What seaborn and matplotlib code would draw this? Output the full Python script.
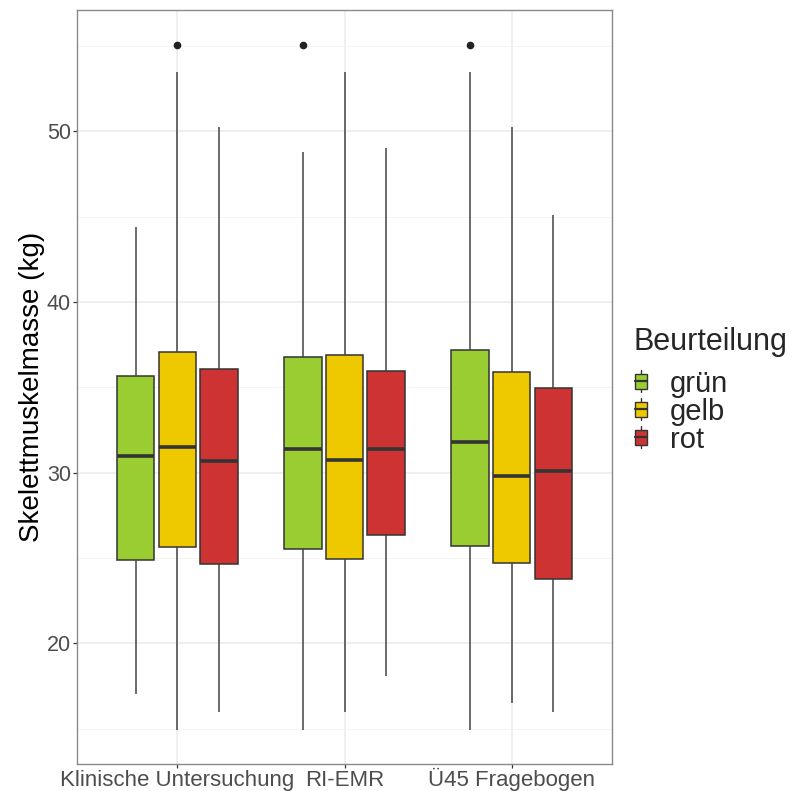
import numpy as np
import pandas as pd
import matplotlib
matplotlib.use('Agg')
import matplotlib.pyplot as plt
import seaborn as sns
from matplotlib.patches import Patch, Rectangle
from matplotlib.lines import Line2D
from matplotlib.legend_handler import HandlerBase
import warnings
warnings.filterwarnings('ignore')

# Daten
methoden = ['Klinische Untersuchung', 'RI-EMR', 'Ü45 Fragebogen']
beurteilung = ['grün', 'gelb', 'rot']
farben = ['#9ACD32', '#EEC900', '#CD3333']

# je Beurteilung: Werte für die drei Methoden
unten = {'grün': [17.05, 14.90, 14.90],
         'gelb': [14.95, 16.00, 16.50],
         'rot':  [16.00, 18.10, 16.00]}
q1 = {'grün': [24.88, 25.51, 25.70],
      'gelb': [25.62, 24.96, 24.70],
      'rot':  [24.63, 26.34, 23.79]}
median = {'grün': [30.99, 31.40, 31.79],
          'gelb': [31.50, 30.74, 29.80],
          'rot':  [30.70, 31.40, 30.08]}
q3 = {'grün': [35.68, 36.79, 37.18],
      'gelb': [37.05, 36.87, 35.88],
      'rot':  [36.05, 35.97, 34.94]}
oben = {'grün': [44.37, 48.76, 53.45],
        'gelb': [53.45, 53.45, 50.26],
        'rot':  [50.26, 49.00, 45.10]}
ausreisser = {'grün': [None, 55.05, 55.05],
              'gelb': [55.05, None, None],
              'rot':  [None, None, None]}

# Beobachtungen so aufbauen, dass die Quartile genau stimmen
rows = []
for b in beurteilung:
    for i, m in enumerate(methoden):
        a, q_1, med, q_3, e = unten[b][i], q1[b][i], median[b][i], q3[b][i], oben[b][i]
        if ausreisser[b][i] is None:
            werte = [a, q_1, med, q_3, e]
        else:
            werte = [a, q_1, q_1, med, med, q_3, q_3, e, ausreisser[b][i]]
        for w in werte:
            rows.append({'Methode': m, 'Beurteilung': b, 'Wert': w})
df = pd.DataFrame(rows)

sns.set_style('white')
plt.rcParams['font.family'] = ['Liberation Sans', 'DejaVu Sans']

fig = plt.figure(figsize=(7.93, 7.91), dpi=100)
ax = fig.add_axes([77 / 793, 1 - 764 / 791, (612 - 77) / 793, (764 - 10) / 791])

sns.boxplot(data=df, x='Methode', y='Wert', hue='Beurteilung',
            order=methoden, hue_order=beurteilung, palette=farben,
            width=0.75, gap=0.1, linecolor='#333333', linewidth=1.1,
            whis=1.5, saturation=1, legend=False, ax=ax,
            showcaps=False,
            medianprops=dict(linewidth=2.6, color='#333333'),
            whiskerprops=dict(linewidth=1.1, color='#444444'),
            flierprops=dict(marker='o', markersize=4.5,
                            markerfacecolor='#222222', markeredgecolor='#222222'))

ax.set_xlim(-0.6, 2.6)
ax.set_ylim(12.93, 57.1)
ax.set_yticks([20, 30, 40, 50])
ax.set_yticks([15, 25, 35, 45, 55], minor=True)
ax.set_axisbelow(True)
ax.grid(True, which='major', color='#EBEBEB', linewidth=1.1)
ax.grid(True, which='minor', axis='y', color='#F3F3F3', linewidth=0.6)
for s in ax.spines.values():
    s.set_color('#8A8A8A')
    s.set_linewidth(1.0)

ax.tick_params(axis='both', which='major', length=3, width=0.9, color='#333333',
               labelsize=15.5, labelcolor='#4D4D4D', pad=1.5, bottom=True, left=True)
ax.tick_params(axis='x', labelsize=16, pad=13)
for lab in ax.get_xticklabels():
    lab.set_va('baseline')
ax.tick_params(axis='y', which='minor', length=0)
ax.set_xlabel('')
ax.set_ylabel('Skelettmuskelmasse (kg)', fontsize=20, color='black', labelpad=1)


class BoxKey(HandlerBase):
    def create_artists(self, legend, orig, xd, yd, w, h, fs, trans):
        cx = w / 2 - xd
        y0 = -yd
        box = Rectangle((cx - w * 0.45, y0 + h * 0.15), w * 0.9, h * 0.7,
                        facecolor=orig.get_facecolor(), edgecolor='#333333',
                        linewidth=1, transform=trans)
        wl = Line2D([cx, cx], [y0, y0 + h], color='#333333',
                    linewidth=1, transform=trans)
        med = Line2D([cx - w * 0.45, cx + w * 0.45], [y0 + h / 2] * 2,
                     color='#333333', linewidth=1.6, transform=trans)
        return [wl, box, med]


handles = [Patch(facecolor=c) for c in farben]
leg = fig.legend(handles, beurteilung, title='Beurteilung',
                 loc='upper left', bbox_to_anchor=(634 / 793, 1 - 327 / 791),
                 bbox_transform=fig.transFigure, frameon=False,
                 fontsize=21, title_fontsize=22, alignment='left',
                 handlelength=0.48, handleheight=0.78, handletextpad=0.75,
                 labelspacing=0.0, borderpad=0, borderaxespad=0,
                 handler_map={Patch: BoxKey()})
leg._legend_box.sep = 9

fig.savefig('out.png', dpi=100)
